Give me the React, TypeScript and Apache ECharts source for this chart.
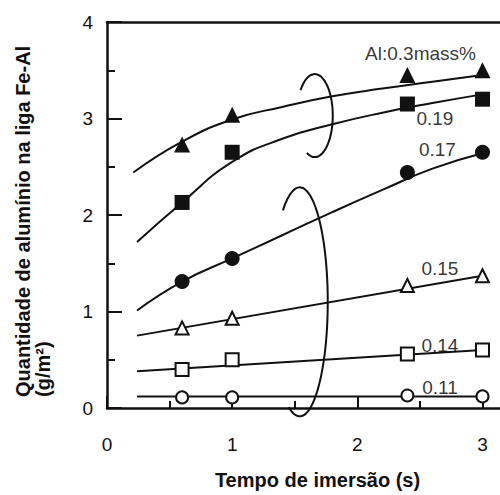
import React, { useEffect, useRef } from "react";
import * as echarts from "echarts";

// ---- data ----
const xLabelTicks = [0, 1, 2, 3];
const xHalfTicks = [0.5, 1.5, 2.5];

// measured points (markers)
const pts030 = [[0.6, 2.73], [1.0, 3.04], [2.4, 3.45], [3.0, 3.5]];
const pts019 = [[0.6, 2.13], [1.0, 2.65], [2.4, 3.15], [3.0, 3.2]];
const pts017 = [[0.6, 1.31], [1.0, 1.55], [2.4, 2.44], [3.0, 2.65]];
const pts015 = [[0.6, 0.83], [1.0, 0.93], [2.4, 1.27], [3.0, 1.37]];
const pts014 = [[0.6, 0.4], [1.0, 0.5], [2.4, 0.56], [3.0, 0.6]];
const pts011 = [[0.6, 0.11], [1.0, 0.11], [2.4, 0.13], [3.0, 0.12]];

// fitted curves
const fit030 = [[0.21, 2.44], [0.6, 2.76], [1.0, 2.99], [1.4, 3.12], [1.8, 3.23], [2.2, 3.31], [2.6, 3.38], [3.0, 3.45]];
const fit019 = [[0.24, 1.72], [0.6, 2.13], [1.0, 2.55], [1.4, 2.79], [1.8, 2.94], [2.2, 3.06], [2.6, 3.16], [3.0, 3.25]];
const fit017 = [[0.24, 1.01], [0.6, 1.31], [1.0, 1.55], [1.4, 1.79], [1.8, 2.03], [2.2, 2.26], [2.6, 2.48], [3.0, 2.64]];
const fit015 = [[0.24, 0.75], [3.0, 1.37]];
const fit014 = [[0.24, 0.38], [3.0, 0.6]];
const fit011 = [[0.24, 0.12], [3.0, 0.12]];

// series labels
const labelNames = ["Al:0.3mass%", "0.19", "0.17", "0.15", "0.14", "0.11"];
const labelX = [2.505, 2.62, 2.64, 2.66, 2.66, 2.66];
const labelY = [3.67, 3.0, 2.68, 1.45, 0.65, 0.21];

// grouping ellipses (centre in data units)
const ellipseCentres = [[1.66, 3.03], [1.54, 1.1]];

const INK = "#111";
const FONT = '"Liberation Sans", Arial, Helvetica, sans-serif';

export default function App() {
  const ref = useRef<HTMLDivElement>(null);

  useEffect(() => {
    if (!ref.current) return;
    const chart = echarts.init(ref.current, null, { renderer: "svg" });

    const ellipseGeom = [
      { rx: 18, ry: 41.5, a1: -142, a2: 118 },
      { rx: 28, ry: 114.5, a1: -127, a2: 114 },
    ];

    const fitSeries = (data: number[][]) => ({
      type: "line",
      data,
      smooth: 0.5,
      symbol: "none",
      showSymbol: false,
      lineStyle: { color: INK, width: 2 },
      z: 2,
      silent: true,
    });

    const markerSeries = (data: number[][], symbol: string, size: number, filled: boolean) => ({
      type: "scatter",
      data,
      symbol,
      symbolSize: size,
      itemStyle: filled
        ? { color: INK, borderColor: INK, borderWidth: 0, opacity: 1 }
        : { color: "#fff", borderColor: INK, borderWidth: 2, opacity: 1 },
      z: 5,
      silent: true,
    });

    const option: any = {
      animation: false,
      backgroundColor: "#fff",
      textStyle: { fontFamily: FONT },
      grid: { left: 107, top: 22, right: 0, bottom: 85, containLabel: false },
      xAxis: [
        {
          type: "value",
          min: 0,
          max: 3.14,
          position: "bottom",
          axisLine: { show: true, onZero: false, lineStyle: { color: INK, width: 2.5 } },
          axisTick: { show: true, inside: true, length: 12, customValues: xLabelTicks, lineStyle: { color: INK, width: 2 } },
          axisLabel: { show: true, customValues: xLabelTicks, fontSize: 19, color: INK, margin: 27, fontFamily: FONT },
          splitLine: { show: false },
          name: "Tempo de imersão (s)",
          nameLocation: "middle",
          nameGap: 62,
          nameTextStyle: { fontSize: 20, fontWeight: "bold", color: INK, fontFamily: FONT, padding: [0, 0, 0, 28] },
        },
        {
          type: "value",
          min: 0,
          max: 3.14,
          position: "bottom",
          axisLine: { show: false, onZero: false },
          axisTick: { show: true, inside: true, length: 7, customValues: xHalfTicks, lineStyle: { color: INK, width: 2 } },
          axisLabel: { show: false },
          splitLine: { show: false },
        },
        {
          type: "value",
          min: 0,
          max: 3.14,
          position: "top",
          axisLine: { show: true, onZero: false, lineStyle: { color: INK, width: 2.5 } },
          axisTick: { show: false },
          axisLabel: { show: false },
          splitLine: { show: false },
        },
      ],
      yAxis: {
        type: "value",
        min: 0,
        max: 4,
        interval: 1,
        axisLine: { show: true, onZero: false, lineStyle: { color: INK, width: 2.5 } },
        axisTick: { show: true, inside: true, length: 15, lineStyle: { color: INK, width: 2 } },
        minorTick: { show: true, splitNumber: 2, length: 8, lineStyle: { color: INK, width: 2 } },
        axisLabel: { fontSize: 19, color: INK, margin: 14, fontFamily: FONT },
        splitLine: { show: false },
        minorSplitLine: { show: false },
      },
      graphic: [
        {
          type: "text",
          x: 23,
          y: 397,
          rotation: Math.PI / 2,
          style: {
            text: "Quantidade de alumínio na liga Fe-Al",
            font: `bold 20px ${FONT}`,
            fill: INK,
            align: "left",
            verticalAlign: "middle",
          },
        },
        {
          type: "text",
          x: 43,
          y: 397,
          rotation: Math.PI / 2,
          style: {
            text: "(g/m²)",
            font: `bold 20px ${FONT}`,
            fill: INK,
            align: "left",
            verticalAlign: "middle",
          },
        },
      ],
      series: [
        fitSeries(fit030),
        fitSeries(fit019),
        fitSeries(fit017),
        fitSeries(fit015),
        fitSeries(fit014),
        fitSeries(fit011),
        markerSeries(pts030, "triangle", 16, true),
        markerSeries(pts019, "rect", 15, true),
        markerSeries(pts017, "circle", 15, true),
        markerSeries(pts015, "triangle", 13, false),
        markerSeries(pts014, "rect", 13, false),
        markerSeries(pts011, "circle", 12, false),
        {
          type: "scatter",
          data: labelNames.map((n, i) => ({ name: n, value: [labelX[i], labelY[i]] })),
          symbolSize: 1,
          itemStyle: { color: "rgba(0,0,0,0)" },
          label: {
            show: true,
            position: "inside",
            formatter: (p: any) => p.name,
            fontSize: 19,
            color: "#000",
            fontFamily: FONT,
          },
          labelLayout: { hideOverlap: false },
          z: 6,
          silent: true,
        },
        {
          type: "custom",
          data: ellipseCentres,
          clip: false,
          silent: true,
          z: 4,
          renderItem: (params: any, api: any) => {
            const g = ellipseGeom[params.dataIndex];
            const c = api.coord([api.value(0), api.value(1)]);
            const points: number[][] = [];
            for (let a = g.a1; a <= g.a2 + 0.001; a += 3) {
              const t = (a * Math.PI) / 180;
              points.push([c[0] + g.rx * Math.cos(t), c[1] + g.ry * Math.sin(t)]);
            }
            return {
              type: "polyline",
              shape: { points, smooth: 0.3 },
              style: { stroke: INK, lineWidth: 2, fill: null },
            };
          },
        },
      ],
    };

    chart.setOption(option);
    return () => chart.dispose();
  }, []);

  return (
    <div
      ref={ref}
      style={{ position: "fixed", left: 0, top: 0, width: 500, height: 495, background: "#fff" }}
    />
  );
}
